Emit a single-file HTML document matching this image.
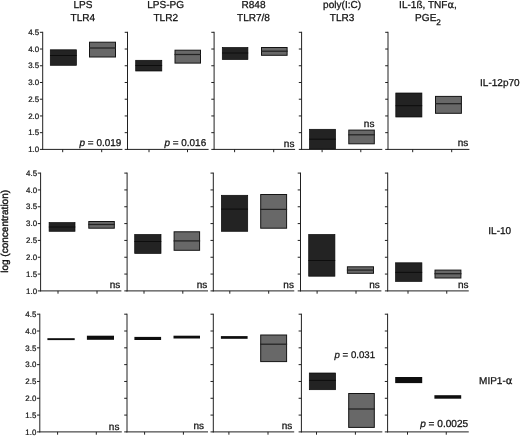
<!DOCTYPE html>
<html><head><meta charset="utf-8"><title>Figure</title>
<style>
html,body{margin:0;padding:0;background:#fff;}
body{width:520px;height:436px;overflow:hidden;}
svg text{text-rendering:geometricPrecision;font-family:"Liberation Sans",sans-serif;fill:#141414;stroke:#141414;stroke-width:0.27px;}
svg .al{font-family:"DejaVu Sans","Liberation Sans",sans-serif;}
svg text.t{stroke-width:0.22px;}
</style></head><body>
<svg width="520" height="436" viewBox="0 0 520 436" style="display:block">
<rect width="520" height="436" fill="#fff"/>
<rect x="50.3" y="49.8" width="26.1" height="15.5" fill="#232323" stroke="#080808" stroke-width="0.7"/>
<line x1="50.0" x2="76.7" y1="55.5" y2="55.5" stroke="#080808" stroke-width="0.8"/>
<rect x="89.5" y="42.2" width="26.0" height="14.8" fill="#686868" stroke="#141414" stroke-width="1"/>
<line x1="89.0" x2="116.0" y1="48.0" y2="48.0" stroke="#222" stroke-width="1.25"/>
<rect x="135.7" y="60.3" width="26.1" height="10.7" fill="#232323" stroke="#080808" stroke-width="0.7"/>
<line x1="135.4" x2="162.1" y1="65.5" y2="65.5" stroke="#080808" stroke-width="0.8"/>
<rect x="175.0" y="50.2" width="25.5" height="12.9" fill="#686868" stroke="#141414" stroke-width="1"/>
<line x1="174.5" x2="201.0" y1="54.5" y2="54.5" stroke="#222" stroke-width="1.25"/>
<rect x="222.3" y="47.5" width="25.6" height="12.0" fill="#232323" stroke="#080808" stroke-width="0.7"/>
<line x1="222.0" x2="248.2" y1="53.0" y2="53.0" stroke="#080808" stroke-width="0.8"/>
<rect x="261.5" y="47.5" width="25.6" height="7.8" fill="#686868" stroke="#141414" stroke-width="1"/>
<line x1="261.0" x2="287.6" y1="51.2" y2="51.2" stroke="#222" stroke-width="1.25"/>
<rect x="309.5" y="129.3" width="26.0" height="19.8" fill="#232323" stroke="#080808" stroke-width="0.7"/>
<line x1="309.2" x2="335.8" y1="139.2" y2="139.2" stroke="#080808" stroke-width="0.8"/>
<rect x="348.8" y="130.1" width="25.5" height="13.7" fill="#686868" stroke="#141414" stroke-width="1"/>
<line x1="348.3" x2="374.8" y1="134.8" y2="134.8" stroke="#222" stroke-width="1.25"/>
<rect x="395.8" y="93.0" width="26.1" height="24.0" fill="#232323" stroke="#080808" stroke-width="0.7"/>
<line x1="395.5" x2="422.2" y1="105.7" y2="105.7" stroke="#080808" stroke-width="0.8"/>
<rect x="435.5" y="96.4" width="25.9" height="16.9" fill="#686868" stroke="#141414" stroke-width="1"/>
<line x1="435.0" x2="461.9" y1="103.7" y2="103.7" stroke="#222" stroke-width="1.25"/>
<rect x="49.1" y="222.6" width="25.9" height="8.7" fill="#232323" stroke="#080808" stroke-width="0.7"/>
<line x1="48.8" x2="75.3" y1="227.0" y2="227.0" stroke="#080808" stroke-width="0.8"/>
<rect x="88.8" y="221.5" width="25.5" height="6.7" fill="#686868" stroke="#141414" stroke-width="1"/>
<line x1="88.3" x2="114.8" y1="224.5" y2="224.5" stroke="#222" stroke-width="1.25"/>
<rect x="134.7" y="234.5" width="26.3" height="18.9" fill="#232323" stroke="#080808" stroke-width="0.7"/>
<line x1="134.4" x2="161.3" y1="241.5" y2="241.5" stroke="#080808" stroke-width="0.8"/>
<rect x="174.1" y="231.8" width="25.5" height="18.5" fill="#686868" stroke="#141414" stroke-width="1"/>
<line x1="173.6" x2="200.1" y1="240.9" y2="240.9" stroke="#222" stroke-width="1.25"/>
<rect x="221.4" y="195.3" width="26.3" height="36.0" fill="#232323" stroke="#080808" stroke-width="0.7"/>
<line x1="221.1" x2="248.0" y1="209.1" y2="209.1" stroke="#080808" stroke-width="0.8"/>
<rect x="260.7" y="194.5" width="25.9" height="33.7" fill="#686868" stroke="#141414" stroke-width="1"/>
<line x1="260.2" x2="287.1" y1="209.4" y2="209.4" stroke="#222" stroke-width="1.25"/>
<rect x="308.7" y="234.5" width="26.2" height="41.7" fill="#232323" stroke="#080808" stroke-width="0.7"/>
<line x1="308.4" x2="335.2" y1="260.5" y2="260.5" stroke="#080808" stroke-width="0.8"/>
<rect x="347.4" y="266.8" width="26.1" height="6.5" fill="#686868" stroke="#141414" stroke-width="1"/>
<line x1="346.9" x2="374.0" y1="270.1" y2="270.1" stroke="#222" stroke-width="1.25"/>
<rect x="395.6" y="262.8" width="26.3" height="18.6" fill="#232323" stroke="#080808" stroke-width="0.7"/>
<line x1="395.3" x2="422.2" y1="272.4" y2="272.4" stroke="#080808" stroke-width="0.8"/>
<rect x="435.0" y="270.1" width="25.9" height="7.9" fill="#686868" stroke="#141414" stroke-width="1"/>
<line x1="434.5" x2="461.4" y1="273.7" y2="273.7" stroke="#222" stroke-width="1.25"/>
<rect x="47.4" y="338.2" width="27.3" height="1.9" fill="#0e0e0e"/>
<rect x="86.9" y="335.7" width="27.1" height="4.1" fill="#0e0e0e"/>
<rect x="134.4" y="336.9" width="26.7" height="3.1" fill="#0e0e0e"/>
<rect x="173.5" y="335.7" width="26.5" height="2.8" fill="#0e0e0e"/>
<rect x="220.9" y="336.1" width="26.7" height="2.7" fill="#0e0e0e"/>
<rect x="260.7" y="335.0" width="25.9" height="26.6" fill="#686868" stroke="#141414" stroke-width="1"/>
<line x1="260.2" x2="287.1" y1="344.2" y2="344.2" stroke="#222" stroke-width="1.25"/>
<rect x="309.3" y="373.0" width="26.3" height="16.7" fill="#232323" stroke="#080808" stroke-width="0.7"/>
<line x1="309.0" x2="335.9" y1="380.4" y2="380.4" stroke="#080808" stroke-width="0.8"/>
<rect x="348.7" y="393.5" width="25.6" height="33.9" fill="#686868" stroke="#141414" stroke-width="1"/>
<line x1="348.2" x2="374.8" y1="409.0" y2="409.0" stroke="#222" stroke-width="1.25"/>
<rect x="395.2" y="377.0" width="27.0" height="6.1" fill="#0e0e0e"/>
<rect x="434.4" y="395.2" width="26.8" height="3.5" fill="#0e0e0e"/>
<line x1="42.7" x2="42.7" y1="31.799999999999997" y2="149.9" stroke="#202020" stroke-width="1"/>
<line x1="42.2" x2="122.4" y1="149.4" y2="149.4" stroke="#202020" stroke-width="1"/>
<line x1="39.900000000000006" x2="42.7" y1="32.30" y2="32.30" stroke="#202020" stroke-width="1"/>
<text class="t" x="39.2" y="35.00" font-size="7.9" text-anchor="end">4.5</text>
<line x1="39.900000000000006" x2="42.7" y1="49.03" y2="49.03" stroke="#202020" stroke-width="1"/>
<text class="t" x="39.2" y="51.73" font-size="7.9" text-anchor="end">4.0</text>
<line x1="39.900000000000006" x2="42.7" y1="65.76" y2="65.76" stroke="#202020" stroke-width="1"/>
<text class="t" x="39.2" y="68.46" font-size="7.9" text-anchor="end">3.5</text>
<line x1="39.900000000000006" x2="42.7" y1="82.49" y2="82.49" stroke="#202020" stroke-width="1"/>
<text class="t" x="39.2" y="85.19" font-size="7.9" text-anchor="end">3.0</text>
<line x1="39.900000000000006" x2="42.7" y1="99.21" y2="99.21" stroke="#202020" stroke-width="1"/>
<text class="t" x="39.2" y="101.91" font-size="7.9" text-anchor="end">2.5</text>
<line x1="39.900000000000006" x2="42.7" y1="115.94" y2="115.94" stroke="#202020" stroke-width="1"/>
<text class="t" x="39.2" y="118.64" font-size="7.9" text-anchor="end">2.0</text>
<line x1="39.900000000000006" x2="42.7" y1="132.67" y2="132.67" stroke="#202020" stroke-width="1"/>
<text class="t" x="39.2" y="135.37" font-size="7.9" text-anchor="end">1.5</text>
<line x1="39.900000000000006" x2="42.7" y1="149.40" y2="149.40" stroke="#202020" stroke-width="1"/>
<text class="t" x="39.2" y="152.10" font-size="7.9" text-anchor="end">1.0</text>
<line x1="62.7" x2="62.7" y1="149.4" y2="152.20000000000002" stroke="#202020" stroke-width="1"/>
<line x1="101.7" x2="101.7" y1="149.4" y2="152.20000000000002" stroke="#202020" stroke-width="1"/>
<line x1="127.5" x2="127.5" y1="31.799999999999997" y2="149.9" stroke="#202020" stroke-width="1"/>
<line x1="127.0" x2="208.6" y1="149.4" y2="149.4" stroke="#202020" stroke-width="1"/>
<line x1="124.7" x2="127.5" y1="32.30" y2="32.30" stroke="#202020" stroke-width="1"/>
<line x1="124.7" x2="127.5" y1="49.03" y2="49.03" stroke="#202020" stroke-width="1"/>
<line x1="124.7" x2="127.5" y1="65.76" y2="65.76" stroke="#202020" stroke-width="1"/>
<line x1="124.7" x2="127.5" y1="82.49" y2="82.49" stroke="#202020" stroke-width="1"/>
<line x1="124.7" x2="127.5" y1="99.21" y2="99.21" stroke="#202020" stroke-width="1"/>
<line x1="124.7" x2="127.5" y1="115.94" y2="115.94" stroke="#202020" stroke-width="1"/>
<line x1="124.7" x2="127.5" y1="132.67" y2="132.67" stroke="#202020" stroke-width="1"/>
<line x1="124.7" x2="127.5" y1="149.40" y2="149.40" stroke="#202020" stroke-width="1"/>
<line x1="149" x2="149" y1="149.4" y2="152.20000000000002" stroke="#202020" stroke-width="1"/>
<line x1="187.5" x2="187.5" y1="149.4" y2="152.20000000000002" stroke="#202020" stroke-width="1"/>
<line x1="214.1" x2="214.1" y1="31.799999999999997" y2="149.9" stroke="#202020" stroke-width="1"/>
<line x1="213.6" x2="295.1" y1="149.4" y2="149.4" stroke="#202020" stroke-width="1"/>
<line x1="211.29999999999998" x2="214.1" y1="32.30" y2="32.30" stroke="#202020" stroke-width="1"/>
<line x1="211.29999999999998" x2="214.1" y1="49.03" y2="49.03" stroke="#202020" stroke-width="1"/>
<line x1="211.29999999999998" x2="214.1" y1="65.76" y2="65.76" stroke="#202020" stroke-width="1"/>
<line x1="211.29999999999998" x2="214.1" y1="82.49" y2="82.49" stroke="#202020" stroke-width="1"/>
<line x1="211.29999999999998" x2="214.1" y1="99.21" y2="99.21" stroke="#202020" stroke-width="1"/>
<line x1="211.29999999999998" x2="214.1" y1="115.94" y2="115.94" stroke="#202020" stroke-width="1"/>
<line x1="211.29999999999998" x2="214.1" y1="132.67" y2="132.67" stroke="#202020" stroke-width="1"/>
<line x1="211.29999999999998" x2="214.1" y1="149.40" y2="149.40" stroke="#202020" stroke-width="1"/>
<line x1="234.6" x2="234.6" y1="149.4" y2="152.20000000000002" stroke="#202020" stroke-width="1"/>
<line x1="273.7" x2="273.7" y1="149.4" y2="152.20000000000002" stroke="#202020" stroke-width="1"/>
<line x1="301.6" x2="301.6" y1="31.799999999999997" y2="149.9" stroke="#202020" stroke-width="1"/>
<line x1="301.1" x2="382.3" y1="149.4" y2="149.4" stroke="#202020" stroke-width="1"/>
<line x1="298.8" x2="301.6" y1="32.30" y2="32.30" stroke="#202020" stroke-width="1"/>
<line x1="298.8" x2="301.6" y1="49.03" y2="49.03" stroke="#202020" stroke-width="1"/>
<line x1="298.8" x2="301.6" y1="65.76" y2="65.76" stroke="#202020" stroke-width="1"/>
<line x1="298.8" x2="301.6" y1="82.49" y2="82.49" stroke="#202020" stroke-width="1"/>
<line x1="298.8" x2="301.6" y1="99.21" y2="99.21" stroke="#202020" stroke-width="1"/>
<line x1="298.8" x2="301.6" y1="115.94" y2="115.94" stroke="#202020" stroke-width="1"/>
<line x1="298.8" x2="301.6" y1="132.67" y2="132.67" stroke="#202020" stroke-width="1"/>
<line x1="298.8" x2="301.6" y1="149.40" y2="149.40" stroke="#202020" stroke-width="1"/>
<line x1="322.1" x2="322.1" y1="149.4" y2="152.20000000000002" stroke="#202020" stroke-width="1"/>
<line x1="360.8" x2="360.8" y1="149.4" y2="152.20000000000002" stroke="#202020" stroke-width="1"/>
<line x1="388.0" x2="388.0" y1="31.799999999999997" y2="149.9" stroke="#202020" stroke-width="1"/>
<line x1="387.5" x2="469.4" y1="149.4" y2="149.4" stroke="#202020" stroke-width="1"/>
<line x1="385.2" x2="388.0" y1="32.30" y2="32.30" stroke="#202020" stroke-width="1"/>
<line x1="385.2" x2="388.0" y1="49.03" y2="49.03" stroke="#202020" stroke-width="1"/>
<line x1="385.2" x2="388.0" y1="65.76" y2="65.76" stroke="#202020" stroke-width="1"/>
<line x1="385.2" x2="388.0" y1="82.49" y2="82.49" stroke="#202020" stroke-width="1"/>
<line x1="385.2" x2="388.0" y1="99.21" y2="99.21" stroke="#202020" stroke-width="1"/>
<line x1="385.2" x2="388.0" y1="115.94" y2="115.94" stroke="#202020" stroke-width="1"/>
<line x1="385.2" x2="388.0" y1="132.67" y2="132.67" stroke="#202020" stroke-width="1"/>
<line x1="385.2" x2="388.0" y1="149.40" y2="149.40" stroke="#202020" stroke-width="1"/>
<line x1="412.7" x2="412.7" y1="149.4" y2="152.20000000000002" stroke="#202020" stroke-width="1"/>
<line x1="451.7" x2="451.7" y1="149.4" y2="152.20000000000002" stroke="#202020" stroke-width="1"/>
<line x1="40.6" x2="40.6" y1="172.6" y2="291.4" stroke="#202020" stroke-width="1"/>
<line x1="40.1" x2="121.4" y1="290.9" y2="290.9" stroke="#202020" stroke-width="1"/>
<line x1="37.800000000000004" x2="40.6" y1="173.10" y2="173.10" stroke="#202020" stroke-width="1"/>
<text class="t" x="37.1" y="175.80" font-size="7.9" text-anchor="end">4.5</text>
<line x1="37.800000000000004" x2="40.6" y1="189.93" y2="189.93" stroke="#202020" stroke-width="1"/>
<text class="t" x="37.1" y="192.63" font-size="7.9" text-anchor="end">4.0</text>
<line x1="37.800000000000004" x2="40.6" y1="206.76" y2="206.76" stroke="#202020" stroke-width="1"/>
<text class="t" x="37.1" y="209.46" font-size="7.9" text-anchor="end">3.5</text>
<line x1="37.800000000000004" x2="40.6" y1="223.59" y2="223.59" stroke="#202020" stroke-width="1"/>
<text class="t" x="37.1" y="226.29" font-size="7.9" text-anchor="end">3.0</text>
<line x1="37.800000000000004" x2="40.6" y1="240.41" y2="240.41" stroke="#202020" stroke-width="1"/>
<text class="t" x="37.1" y="243.11" font-size="7.9" text-anchor="end">2.5</text>
<line x1="37.800000000000004" x2="40.6" y1="257.24" y2="257.24" stroke="#202020" stroke-width="1"/>
<text class="t" x="37.1" y="259.94" font-size="7.9" text-anchor="end">2.0</text>
<line x1="37.800000000000004" x2="40.6" y1="274.07" y2="274.07" stroke="#202020" stroke-width="1"/>
<text class="t" x="37.1" y="276.77" font-size="7.9" text-anchor="end">1.5</text>
<line x1="37.800000000000004" x2="40.6" y1="290.90" y2="290.90" stroke="#202020" stroke-width="1"/>
<text class="t" x="37.1" y="293.60" font-size="7.9" text-anchor="end">1.0</text>
<line x1="58" x2="58" y1="290.9" y2="293.7" stroke="#202020" stroke-width="1"/>
<line x1="97" x2="97" y1="290.9" y2="293.7" stroke="#202020" stroke-width="1"/>
<line x1="127.1" x2="127.1" y1="172.6" y2="291.4" stroke="#202020" stroke-width="1"/>
<line x1="126.6" x2="208" y1="290.9" y2="290.9" stroke="#202020" stroke-width="1"/>
<line x1="124.3" x2="127.1" y1="173.10" y2="173.10" stroke="#202020" stroke-width="1"/>
<line x1="124.3" x2="127.1" y1="189.93" y2="189.93" stroke="#202020" stroke-width="1"/>
<line x1="124.3" x2="127.1" y1="206.76" y2="206.76" stroke="#202020" stroke-width="1"/>
<line x1="124.3" x2="127.1" y1="223.59" y2="223.59" stroke="#202020" stroke-width="1"/>
<line x1="124.3" x2="127.1" y1="240.41" y2="240.41" stroke="#202020" stroke-width="1"/>
<line x1="124.3" x2="127.1" y1="257.24" y2="257.24" stroke="#202020" stroke-width="1"/>
<line x1="124.3" x2="127.1" y1="274.07" y2="274.07" stroke="#202020" stroke-width="1"/>
<line x1="124.3" x2="127.1" y1="290.90" y2="290.90" stroke="#202020" stroke-width="1"/>
<line x1="144" x2="144" y1="290.9" y2="293.7" stroke="#202020" stroke-width="1"/>
<line x1="182.8" x2="182.8" y1="290.9" y2="293.7" stroke="#202020" stroke-width="1"/>
<line x1="213.3" x2="213.3" y1="172.6" y2="291.4" stroke="#202020" stroke-width="1"/>
<line x1="212.8" x2="294.25" y1="290.9" y2="290.9" stroke="#202020" stroke-width="1"/>
<line x1="210.5" x2="213.3" y1="173.10" y2="173.10" stroke="#202020" stroke-width="1"/>
<line x1="210.5" x2="213.3" y1="189.93" y2="189.93" stroke="#202020" stroke-width="1"/>
<line x1="210.5" x2="213.3" y1="206.76" y2="206.76" stroke="#202020" stroke-width="1"/>
<line x1="210.5" x2="213.3" y1="223.59" y2="223.59" stroke="#202020" stroke-width="1"/>
<line x1="210.5" x2="213.3" y1="240.41" y2="240.41" stroke="#202020" stroke-width="1"/>
<line x1="210.5" x2="213.3" y1="257.24" y2="257.24" stroke="#202020" stroke-width="1"/>
<line x1="210.5" x2="213.3" y1="274.07" y2="274.07" stroke="#202020" stroke-width="1"/>
<line x1="210.5" x2="213.3" y1="290.90" y2="290.90" stroke="#202020" stroke-width="1"/>
<line x1="229.8" x2="229.8" y1="290.9" y2="293.7" stroke="#202020" stroke-width="1"/>
<line x1="268.7" x2="268.7" y1="290.9" y2="293.7" stroke="#202020" stroke-width="1"/>
<line x1="300.5" x2="300.5" y1="172.6" y2="291.4" stroke="#202020" stroke-width="1"/>
<line x1="300.0" x2="381.4" y1="290.9" y2="290.9" stroke="#202020" stroke-width="1"/>
<line x1="297.7" x2="300.5" y1="173.10" y2="173.10" stroke="#202020" stroke-width="1"/>
<line x1="297.7" x2="300.5" y1="189.93" y2="189.93" stroke="#202020" stroke-width="1"/>
<line x1="297.7" x2="300.5" y1="206.76" y2="206.76" stroke="#202020" stroke-width="1"/>
<line x1="297.7" x2="300.5" y1="223.59" y2="223.59" stroke="#202020" stroke-width="1"/>
<line x1="297.7" x2="300.5" y1="240.41" y2="240.41" stroke="#202020" stroke-width="1"/>
<line x1="297.7" x2="300.5" y1="257.24" y2="257.24" stroke="#202020" stroke-width="1"/>
<line x1="297.7" x2="300.5" y1="274.07" y2="274.07" stroke="#202020" stroke-width="1"/>
<line x1="297.7" x2="300.5" y1="290.90" y2="290.90" stroke="#202020" stroke-width="1"/>
<line x1="317.1" x2="317.1" y1="290.9" y2="293.7" stroke="#202020" stroke-width="1"/>
<line x1="356" x2="356" y1="290.9" y2="293.7" stroke="#202020" stroke-width="1"/>
<line x1="387.7" x2="387.7" y1="172.6" y2="291.4" stroke="#202020" stroke-width="1"/>
<line x1="387.2" x2="468.75" y1="290.9" y2="290.9" stroke="#202020" stroke-width="1"/>
<line x1="384.9" x2="387.7" y1="173.10" y2="173.10" stroke="#202020" stroke-width="1"/>
<line x1="384.9" x2="387.7" y1="189.93" y2="189.93" stroke="#202020" stroke-width="1"/>
<line x1="384.9" x2="387.7" y1="206.76" y2="206.76" stroke="#202020" stroke-width="1"/>
<line x1="384.9" x2="387.7" y1="223.59" y2="223.59" stroke="#202020" stroke-width="1"/>
<line x1="384.9" x2="387.7" y1="240.41" y2="240.41" stroke="#202020" stroke-width="1"/>
<line x1="384.9" x2="387.7" y1="257.24" y2="257.24" stroke="#202020" stroke-width="1"/>
<line x1="384.9" x2="387.7" y1="274.07" y2="274.07" stroke="#202020" stroke-width="1"/>
<line x1="384.9" x2="387.7" y1="290.90" y2="290.90" stroke="#202020" stroke-width="1"/>
<line x1="408" x2="408" y1="290.9" y2="293.7" stroke="#202020" stroke-width="1"/>
<line x1="446.75" x2="446.75" y1="290.9" y2="293.7" stroke="#202020" stroke-width="1"/>
<line x1="39.8" x2="39.8" y1="313.7" y2="432.4" stroke="#202020" stroke-width="1"/>
<line x1="39.3" x2="121.8" y1="431.9" y2="431.9" stroke="#202020" stroke-width="1"/>
<line x1="37.0" x2="39.8" y1="314.20" y2="314.20" stroke="#202020" stroke-width="1"/>
<text class="t" x="36.3" y="316.90" font-size="7.9" text-anchor="end">4.5</text>
<line x1="37.0" x2="39.8" y1="331.01" y2="331.01" stroke="#202020" stroke-width="1"/>
<text class="t" x="36.3" y="333.71" font-size="7.9" text-anchor="end">4.0</text>
<line x1="37.0" x2="39.8" y1="347.83" y2="347.83" stroke="#202020" stroke-width="1"/>
<text class="t" x="36.3" y="350.53" font-size="7.9" text-anchor="end">3.5</text>
<line x1="37.0" x2="39.8" y1="364.64" y2="364.64" stroke="#202020" stroke-width="1"/>
<text class="t" x="36.3" y="367.34" font-size="7.9" text-anchor="end">3.0</text>
<line x1="37.0" x2="39.8" y1="381.46" y2="381.46" stroke="#202020" stroke-width="1"/>
<text class="t" x="36.3" y="384.16" font-size="7.9" text-anchor="end">2.5</text>
<line x1="37.0" x2="39.8" y1="398.27" y2="398.27" stroke="#202020" stroke-width="1"/>
<text class="t" x="36.3" y="400.97" font-size="7.9" text-anchor="end">2.0</text>
<line x1="37.0" x2="39.8" y1="415.09" y2="415.09" stroke="#202020" stroke-width="1"/>
<text class="t" x="36.3" y="417.79" font-size="7.9" text-anchor="end">1.5</text>
<line x1="37.0" x2="39.8" y1="431.90" y2="431.90" stroke="#202020" stroke-width="1"/>
<text class="t" x="36.3" y="434.60" font-size="7.9" text-anchor="end">1.0</text>
<line x1="57.6" x2="57.6" y1="431.9" y2="434.7" stroke="#202020" stroke-width="1"/>
<line x1="96.3" x2="96.3" y1="431.9" y2="434.7" stroke="#202020" stroke-width="1"/>
<line x1="127.0" x2="127.0" y1="313.7" y2="432.4" stroke="#202020" stroke-width="1"/>
<line x1="126.5" x2="208" y1="431.9" y2="431.9" stroke="#202020" stroke-width="1"/>
<line x1="124.2" x2="127.0" y1="314.20" y2="314.20" stroke="#202020" stroke-width="1"/>
<line x1="124.2" x2="127.0" y1="331.01" y2="331.01" stroke="#202020" stroke-width="1"/>
<line x1="124.2" x2="127.0" y1="347.83" y2="347.83" stroke="#202020" stroke-width="1"/>
<line x1="124.2" x2="127.0" y1="364.64" y2="364.64" stroke="#202020" stroke-width="1"/>
<line x1="124.2" x2="127.0" y1="381.46" y2="381.46" stroke="#202020" stroke-width="1"/>
<line x1="124.2" x2="127.0" y1="398.27" y2="398.27" stroke="#202020" stroke-width="1"/>
<line x1="124.2" x2="127.0" y1="415.09" y2="415.09" stroke="#202020" stroke-width="1"/>
<line x1="124.2" x2="127.0" y1="431.90" y2="431.90" stroke="#202020" stroke-width="1"/>
<line x1="144.6" x2="144.6" y1="431.9" y2="434.7" stroke="#202020" stroke-width="1"/>
<line x1="183.4" x2="183.4" y1="431.9" y2="434.7" stroke="#202020" stroke-width="1"/>
<line x1="213.3" x2="213.3" y1="313.7" y2="432.4" stroke="#202020" stroke-width="1"/>
<line x1="212.8" x2="294.2" y1="431.9" y2="431.9" stroke="#202020" stroke-width="1"/>
<line x1="210.5" x2="213.3" y1="314.20" y2="314.20" stroke="#202020" stroke-width="1"/>
<line x1="210.5" x2="213.3" y1="331.01" y2="331.01" stroke="#202020" stroke-width="1"/>
<line x1="210.5" x2="213.3" y1="347.83" y2="347.83" stroke="#202020" stroke-width="1"/>
<line x1="210.5" x2="213.3" y1="364.64" y2="364.64" stroke="#202020" stroke-width="1"/>
<line x1="210.5" x2="213.3" y1="381.46" y2="381.46" stroke="#202020" stroke-width="1"/>
<line x1="210.5" x2="213.3" y1="398.27" y2="398.27" stroke="#202020" stroke-width="1"/>
<line x1="210.5" x2="213.3" y1="415.09" y2="415.09" stroke="#202020" stroke-width="1"/>
<line x1="210.5" x2="213.3" y1="431.90" y2="431.90" stroke="#202020" stroke-width="1"/>
<line x1="228.9" x2="228.9" y1="431.9" y2="434.7" stroke="#202020" stroke-width="1"/>
<line x1="268" x2="268" y1="431.9" y2="434.7" stroke="#202020" stroke-width="1"/>
<line x1="301.4" x2="301.4" y1="313.7" y2="432.4" stroke="#202020" stroke-width="1"/>
<line x1="300.9" x2="382.3" y1="431.9" y2="431.9" stroke="#202020" stroke-width="1"/>
<line x1="298.59999999999997" x2="301.4" y1="314.20" y2="314.20" stroke="#202020" stroke-width="1"/>
<line x1="298.59999999999997" x2="301.4" y1="331.01" y2="331.01" stroke="#202020" stroke-width="1"/>
<line x1="298.59999999999997" x2="301.4" y1="347.83" y2="347.83" stroke="#202020" stroke-width="1"/>
<line x1="298.59999999999997" x2="301.4" y1="364.64" y2="364.64" stroke="#202020" stroke-width="1"/>
<line x1="298.59999999999997" x2="301.4" y1="381.46" y2="381.46" stroke="#202020" stroke-width="1"/>
<line x1="298.59999999999997" x2="301.4" y1="398.27" y2="398.27" stroke="#202020" stroke-width="1"/>
<line x1="298.59999999999997" x2="301.4" y1="415.09" y2="415.09" stroke="#202020" stroke-width="1"/>
<line x1="298.59999999999997" x2="301.4" y1="431.90" y2="431.90" stroke="#202020" stroke-width="1"/>
<line x1="316.5" x2="316.5" y1="431.9" y2="434.7" stroke="#202020" stroke-width="1"/>
<line x1="355.4" x2="355.4" y1="431.9" y2="434.7" stroke="#202020" stroke-width="1"/>
<line x1="387.6" x2="387.6" y1="313.7" y2="432.4" stroke="#202020" stroke-width="1"/>
<line x1="387.1" x2="468.75" y1="431.9" y2="431.9" stroke="#202020" stroke-width="1"/>
<line x1="384.8" x2="387.6" y1="314.20" y2="314.20" stroke="#202020" stroke-width="1"/>
<line x1="384.8" x2="387.6" y1="331.01" y2="331.01" stroke="#202020" stroke-width="1"/>
<line x1="384.8" x2="387.6" y1="347.83" y2="347.83" stroke="#202020" stroke-width="1"/>
<line x1="384.8" x2="387.6" y1="364.64" y2="364.64" stroke="#202020" stroke-width="1"/>
<line x1="384.8" x2="387.6" y1="381.46" y2="381.46" stroke="#202020" stroke-width="1"/>
<line x1="384.8" x2="387.6" y1="398.27" y2="398.27" stroke="#202020" stroke-width="1"/>
<line x1="384.8" x2="387.6" y1="415.09" y2="415.09" stroke="#202020" stroke-width="1"/>
<line x1="384.8" x2="387.6" y1="431.90" y2="431.90" stroke="#202020" stroke-width="1"/>
<line x1="407.5" x2="407.5" y1="431.9" y2="434.7" stroke="#202020" stroke-width="1"/>
<line x1="446.25" x2="446.25" y1="431.9" y2="434.7" stroke="#202020" stroke-width="1"/>
<text x="82.9" y="8.0" font-size="10.05" text-anchor="middle">LPS</text>
<text x="82.9" y="20.7" font-size="10.05" text-anchor="middle">TLR4</text>
<text x="165.7" y="8.0" font-size="10.05" text-anchor="middle">LPS-PG</text>
<text x="165.7" y="20.7" font-size="10.05" text-anchor="middle">TLR2</text>
<text x="253.5" y="7.8" font-size="10.05" text-anchor="middle">R848</text>
<text x="253.5" y="20.5" font-size="10.05" text-anchor="middle">TLR7/8</text>
<text x="342.1" y="8.0" font-size="10.05" text-anchor="middle">poly(I:C)</text>
<text x="342.1" y="20.5" font-size="10.05" text-anchor="middle">TLR3</text>
<text x="428" y="8.4" font-size="10.05" text-anchor="middle">IL-1ß, TNF<tspan class="al" font-size="10">α</tspan>,</text>
<text x="428" y="20.8" font-size="10.05" text-anchor="middle">PGE<tspan font-size="8.2" dy="3.7">2</tspan></text>
<text x="480.1" y="85.7" font-size="10">IL-12p70</text>
<text x="488.3" y="233.6" font-size="10">IL-10</text>
<text x="479.1" y="383.9" font-size="10">MIP1-<tspan class="al" font-size="10.2">α</tspan></text>
<text transform="translate(8.0,231.35) rotate(-90)" font-size="10" text-anchor="middle" style="stroke-width:0.4px">log (concentration)</text>
<text x="121.3" y="145.7" font-size="9.95" text-anchor="end"><tspan font-style="italic">p</tspan> = 0.019</text>
<text x="206.2" y="145.7" font-size="9.95" text-anchor="end"><tspan font-style="italic">p</tspan> = 0.016</text>
<text x="294.4" y="146.7" font-size="10" text-anchor="end">ns</text>
<text x="374.4" y="126.7" font-size="10" text-anchor="end">ns</text>
<text x="468.2" y="146.4" font-size="10" text-anchor="end">ns</text>
<text x="120.2" y="288.2" font-size="10" text-anchor="end">ns</text>
<text x="207.2" y="288.2" font-size="10" text-anchor="end">ns</text>
<text x="293.9" y="288.2" font-size="10" text-anchor="end">ns</text>
<text x="379.7" y="288.2" font-size="10" text-anchor="end">ns</text>
<text x="468.6" y="288.4" font-size="10" text-anchor="end">ns</text>
<text x="119.4" y="429.5" font-size="10" text-anchor="end">ns</text>
<text x="204" y="429.4" font-size="10" text-anchor="end">ns</text>
<text x="292.2" y="429.2" font-size="10" text-anchor="end">ns</text>
<text x="375" y="357.8" font-size="9.65" text-anchor="end"><tspan font-style="italic">p</tspan> = 0.031</text>
<text x="468.2" y="426.6" font-size="10.1" text-anchor="end"><tspan font-style="italic">p</tspan> = 0.0025</text>
</svg>
</body></html>
